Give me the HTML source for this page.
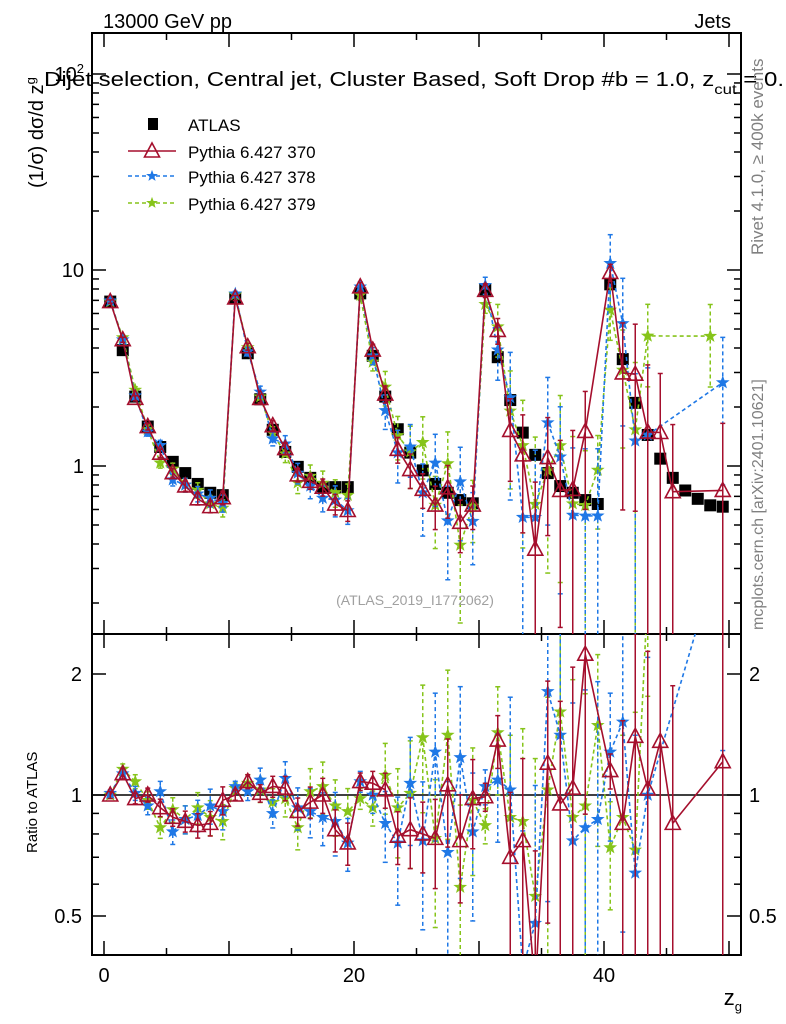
<!DOCTYPE html>
<html><head><meta charset="utf-8"><style>
body{margin:0;background:#fff}
svg{display:block;font-family:"Liberation Sans",sans-serif}
</style></head><body>
<svg id="c" width="786" height="1024" viewBox="0 0 786 1024"></svg>
<script>
const atlasVals=[6.9,3.9,2.26,1.59,1.25,1.05,0.92,0.81,0.73,0.71,
7.2,3.76,2.19,1.53,1.18,0.99,0.87,0.78,0.78,0.78,
7.6,3.65,2.26,1.54,1.17,0.95,0.81,0.73,0.67,0.645,
7.95,3.59,2.17,1.48,1.14,0.92,0.79,0.73,0.67,0.64,
8.45,3.51,2.1,1.44,1.09,0.87,0.75,0.68,0.63,0.62];
const ratio370=[1.0,1.13,0.98,1.0,0.93,0.88,0.86,0.84,0.85,0.97,
1.0,1.08,1.01,1.05,1.04,0.91,0.96,1.0,0.82,0.76,
1.08,1.07,1.03,0.79,0.82,0.80,0.78,1.06,0.77,0.98,
0.99,1.37,0.70,0.77,0.33,1.2,0.95,1.04,2.24,null,
1.15,0.85,1.40,1.035,1.36,0.85,null,null,null,1.21];
const ratio378=[1.01,1.13,1.01,0.94,1.02,0.81,0.87,0.89,0.94,0.91,
1.05,1.02,1.09,0.90,1.1,0.93,0.91,0.88,0.86,0.76,
1.08,1.0,0.85,0.76,1.07,0.77,1.28,0.72,1.24,0.81,
1.05,1.09,1.03,0.37,0.48,1.81,1.41,0.77,0.83,0.87,
1.28,1.52,0.64,1.0,null,null,null,null,null,4.3];
const ratio379=[1.0,1.16,1.08,0.97,0.83,0.92,0.87,0.93,0.88,0.86,
1.04,1.07,1.03,0.96,0.98,0.83,1.02,1.05,0.94,0.91,
0.98,0.93,1.12,0.93,1.01,1.39,0.78,1.41,0.59,0.97,
0.84,1.43,0.88,0.86,0.56,1.03,1.61,0.88,0.94,1.49,
0.74,0.88,0.73,3.2,null,null,null,null,7.3,null];
const relErr370=[0.02,0.03,0.03,0.04,0.05,0.05,0.06,0.07,0.07,0.08,
0.03,0.04,0.05,0.06,0.07,0.08,0.09,0.1,0.12,0.12,
0.05,0.07,0.1,0.15,0.2,0.2,0.25,0.3,0.3,0.25,
0.08,0.15,0.45,0.6,1.2,0.6,0.8,1.0,0.6,0,
0.1,0.8,0.8,1.2,1.0,1.2,0,0,0,1.2];
const relErr378=[0.02,0.03,0.04,0.05,0.06,0.07,0.08,0.09,0.1,0.1,
0.03,0.05,0.07,0.08,0.1,0.12,0.14,0.15,0.18,0.15,
0.06,0.1,0.2,0.3,0.3,0.4,0.4,0.5,0.5,0.4,
0.1,0.3,0.7,1.2,1.2,0.7,0.8,1.2,1.2,1.2,
0.4,0.7,1.2,1.2,0,0,0,0,0,0.7];
const relErr379=[0.02,0.03,0.04,0.05,0.06,0.07,0.08,0.09,0.1,0.1,
0.03,0.05,0.07,0.08,0.1,0.12,0.14,0.15,0.16,0.14,
0.06,0.1,0.2,0.25,0.35,0.35,0.4,0.45,0.6,0.35,
0.1,0.3,0.6,0.7,1.2,0.7,0.8,1.2,0.9,0.5,
0.3,0.6,1.2,0.45,0,0,0,0,0.45,0];
const xTicks=[0,20,40];
const ratioTicks=[0.5,1,2];

const svg=document.getElementById('c');
const NS='http://www.w3.org/2000/svg';
function mk(t,a,p){const e=document.createElementNS(NS,t);for(const k in a)e.setAttribute(k,a[k]);(p||svg).appendChild(e);return e;}
const L=92,R=741,T=33,MB=634,RB=955;
const X=v=>104+12.5*v;
const Y=v=>466-196*Math.log10(v);
const RY=v=>795-121*Math.log2(v);
const clipY=(y,lo,hi)=>Math.max(lo,Math.min(hi,y));

const defs=mk('defs',{});
const c1=mk('clipPath',{id:'cm'},defs);mk('rect',{x:L,y:T,width:R-L,height:MB-T},c1);
const c2=mk('clipPath',{id:'cr'},defs);mk('rect',{x:L,y:MB,width:R-L,height:RB-MB},c2);

let f=mk('rect',{x:L,y:T,width:R-L,height:MB-T,fill:'none',stroke:'#000','stroke-width':2});

f=mk('rect',{x:L,y:MB,width:R-L,height:RB-MB,fill:'none',stroke:'#000','stroke-width':2});


for(let v=0;v<=50;v+=5){const x=X(v),len=v%10==0?14:7;
 mk('line',{x1:x,x2:x,y1:T,y2:T+len,stroke:'#000','stroke-width':1.5});
 mk('line',{x1:x,x2:x,y1:MB,y2:MB-len,stroke:'#000','stroke-width':1.5});
 mk('line',{x1:x,x2:x,y1:MB,y2:MB+len,stroke:'#000','stroke-width':1.5});
 mk('line',{x1:x,x2:x,y1:RB,y2:RB-len,stroke:'#000','stroke-width':1.5});}
xTicks.forEach(v=>{const t=mk('text',{x:X(v),y:982,'font-size':20,'text-anchor':'middle'});t.textContent=v;
 });
for(let d=-1;d<=2;d++)for(let m=1;m<=9;m++){const v=m*Math.pow(10,d);const y=Y(v);if(y<T||y>MB)continue;
 const len=m==1?14:7;
 mk('line',{x1:L,x2:L+len,y1:y,y2:y,stroke:'#000','stroke-width':1.5});
 mk('line',{x1:R,x2:R-len,y1:y,y2:y,stroke:'#000','stroke-width':1.5});}
[['1',1],['10',10]].forEach(([s,v])=>{const t=mk('text',{x:84,y:Y(v)+7,'font-size':20,'text-anchor':'end'});t.textContent=s;
 });
let t=mk('text',{x:84,y:Y(100)+7,'font-size':20,'text-anchor':'end'});t.innerHTML='10<tspan dy="-8" font-size="13">2</tspan>';

[0.4,0.5,0.6,0.7,0.8,0.9,1,2].forEach(v=>{const y=RY(v);const len=(v==0.5||v==1||v==2)?14:7;
 mk('line',{x1:L,x2:L+len,y1:y,y2:y,stroke:'#000','stroke-width':1.5});
 mk('line',{x1:R,x2:R-len,y1:y,y2:y,stroke:'#000','stroke-width':1.5});});
ratioTicks.forEach(v=>{let t1=mk('text',{x:82,y:RY(v)+7,'font-size':20,'text-anchor':'end'});t1.textContent=v;
 
 let t2=mk('text',{x:749,y:RY(v)+7,'font-size':20});t2.textContent=v;
 });
mk('line',{x1:L,x2:R,y1:RY(1),y2:RY(1),stroke:'#000','stroke-width':1.5});

const series=[
 {r:ratio370,e:relErr370,col:'#a50f2d',dash:'',mark:'tri',name:'pythia-370'},
 {r:ratio378,e:relErr378,col:'#1f78e6',dash:'4,3',mark:'star',name:'pythia-378'},
 {r:ratio379,e:relErr379,col:'#86c41a',dash:'4,3',mark:'star',name:'pythia-379'}];
function star(cx,cy,r,col,g){let p='';for(let i=0;i<10;i++){const a=-Math.PI/2+i*Math.PI/5,rr=i%2?r*0.42:r;p+=(i?'L':'M')+(cx+rr*Math.cos(a)).toFixed(1)+','+(cy+rr*Math.sin(a)).toFixed(1);}
 return mk('path',{d:p+'Z',fill:col,stroke:col,'stroke-width':0.8},g);}
function tri(cx,cy,col,g){return mk('path',{d:`M${cx},${cy-8}L${cx+7.5},${cy+6}L${cx-7.5},${cy+6}Z`,fill:'none',stroke:col,'stroke-width':1.6},g);}
function drawPanel(isMain){
 const clip=isMain?'url(#cm)':'url(#cr)';
 const top=isMain?T:MB,bot=isMain?MB:RB;
 [2,1,0].forEach(si=>{const s=series[si];
  const g=mk('g',{'clip-path':clip});
  
  const pts=[];
  s.r.forEach((rv,i)=>{if(rv==null)return;const v=isMain?rv*atlasVals[i]:rv;const fy=isMain?Y:RY;
   const y=fy(v);pts.push([X(i+0.5),y]);
   const e=s.e[i]*v; if(e>0){const y1=clipY(fy(v+e),top-5,bot+5);const lo=v-e;const y2=lo>0?clipY(fy(lo),top-5,bot+5):bot+5;
    mk('line',{x1:X(i+0.5),x2:X(i+0.5),y1:y1,y2:y2,stroke:s.col,'stroke-width':1.5,'stroke-dasharray':s.dash},g);
    mk('line',{x1:X(i+0.5)-2.5,x2:X(i+0.5)+2.5,y1:y1,y2:y1,stroke:s.col,'stroke-width':1.5},g);
    mk('line',{x1:X(i+0.5)-2.5,x2:X(i+0.5)+2.5,y1:y2,y2:y2,stroke:s.col,'stroke-width':1.5},g);}
  });
  mk('polyline',{points:pts.map(p=>p.join(',')).join(' '),fill:'none',stroke:s.col,'stroke-width':1.6,'stroke-dasharray':s.dash},g);
  pts.forEach(p=>{const m=s.mark=='tri'?tri(p[0],p[1],s.col,g):star(p[0],p[1],6,s.col,g);
   });
 });}
const ga=mk('g',{'clip-path':'url(#cm)'});
atlasVals.forEach((v,i)=>{const r=mk('rect',{x:X(i+0.5)-6,y:Y(v)-6,width:12,height:12,fill:'#000'},ga);
 });
drawPanel(true);drawPanel(false);

const lg=mk('g',{});
mk('rect',{x:148,y:118,width:10,height:12,fill:'#000'},lg);
const le=[['ATLAS',124],['Pythia 6.427 370',151],['Pythia 6.427 378',176],['Pythia 6.427 379',203]];
le.forEach(([s,y])=>{const tt=mk('text',{x:188,y:y+7,'font-size':17},lg);tt.textContent=s;
 });
series.forEach((s,i)=>{const y=[151,176,203][i];
 mk('line',{x1:128,x2:176,y1:y,y2:y,stroke:s.col,'stroke-width':1.6,'stroke-dasharray':s.dash},lg);
 if(s.mark=='tri')tri(152,y,s.col,lg);else star(152,y,5,s.col,lg);});

function txt(x,y,s,a,name){const e=mk('text',Object.assign({x:x,y:y},a));e.innerHTML=s;return e;}
txt(103,28,'13000 GeV pp',{'font-size':20},'header-left');
txt(731,28,'Jets',{'font-size':20,'text-anchor':'end'},'header-right');
txt(44,86,'Dijet selection, Central jet, Cluster Based, Soft Drop #b = 1.0, z<tspan dy="8" font-size="14">cut</tspan><tspan dy="-8"> = 0.</tspan>',{'font-size':20,textLength:740,lengthAdjust:'spacingAndGlyphs'},'plot-title');
txt(0,0,'(1/σ) dσ/d z<tspan dy="-8" font-size="13">g</tspan>',{'font-size':20,transform:'translate(43,188) rotate(-90)'},'y-axis-title');
txt(0,0,'Ratio to ATLAS',{'font-size':15,transform:'translate(37,853) rotate(-90)'},'ratio-axis-title');
txt(742,1005,'z<tspan dy="6" font-size="13">g</tspan>',{'font-size':22,'text-anchor':'end'},'x-axis-title');
txt(0,0,'Rivet 4.1.0, ≥ 400k events',{'font-size':17,fill:'#808080',transform:'translate(763,255) rotate(-90)'},'rivet-label');
txt(0,0,'mcplots.cern.ch [arXiv:2401.10621]',{'font-size':16,fill:'#808080',transform:'translate(763,630) rotate(-90)'},'mcplots-label');
txt(415,605,'(ATLAS_2019_I1772062)',{'font-size':14,fill:'#a0a0a0','text-anchor':'middle'},'analysis-id');
</script>
</body></html>
